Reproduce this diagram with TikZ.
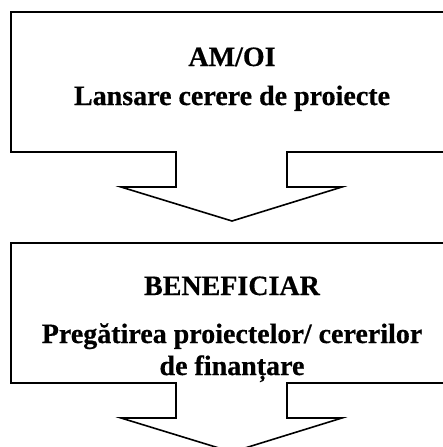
\documentclass[tikz,border=0pt]{standalone}
\usepackage{fontspec}
\setmainfont[BoldFeatures={FakeBold=0.5}]{Liberation Serif}
\begin{document}
\begin{tikzpicture}[x=1pt,y=-1pt,
  callout/.style={draw=black,line width=1.6pt,line join=miter,fill=white},
  lbl/.style={font=\fontsize{28}{32}\selectfont\bfseries,anchor=base,inner sep=0pt}]
\useasboundingbox (0,0) rectangle (443,447);
\clip (0,0) rectangle (443,447);
% box 1 with down arrow
\draw[callout] (11,12) -- (470,12) -- (470,152) -- (287,152) -- (287,187) -- (342,187)
  -- (232,221) -- (121,187) -- (176,187) -- (176,152) -- (11,152) -- cycle;
% box 2 with down arrow
\draw[callout] (11,243) -- (470,243) -- (470,383) -- (287,383) -- (287,418) -- (342,418)
  -- (232,452) -- (121,418) -- (176,418) -- (176,383) -- (11,383) -- cycle;
\node[lbl] (t1) at (232,66) {AM/OI};
\node[lbl] (t2) at (232,105) {Lansare cerere de proiecte};
\node[lbl] (t3) at (232,295) {BENEFICIAR};
\node[lbl] (t4) at (232,343) {Pregătirea proiectelor/ cererilor};
\node[lbl] (t5) at (232,375) {de finanțare};
\end{tikzpicture}
\end{document}
